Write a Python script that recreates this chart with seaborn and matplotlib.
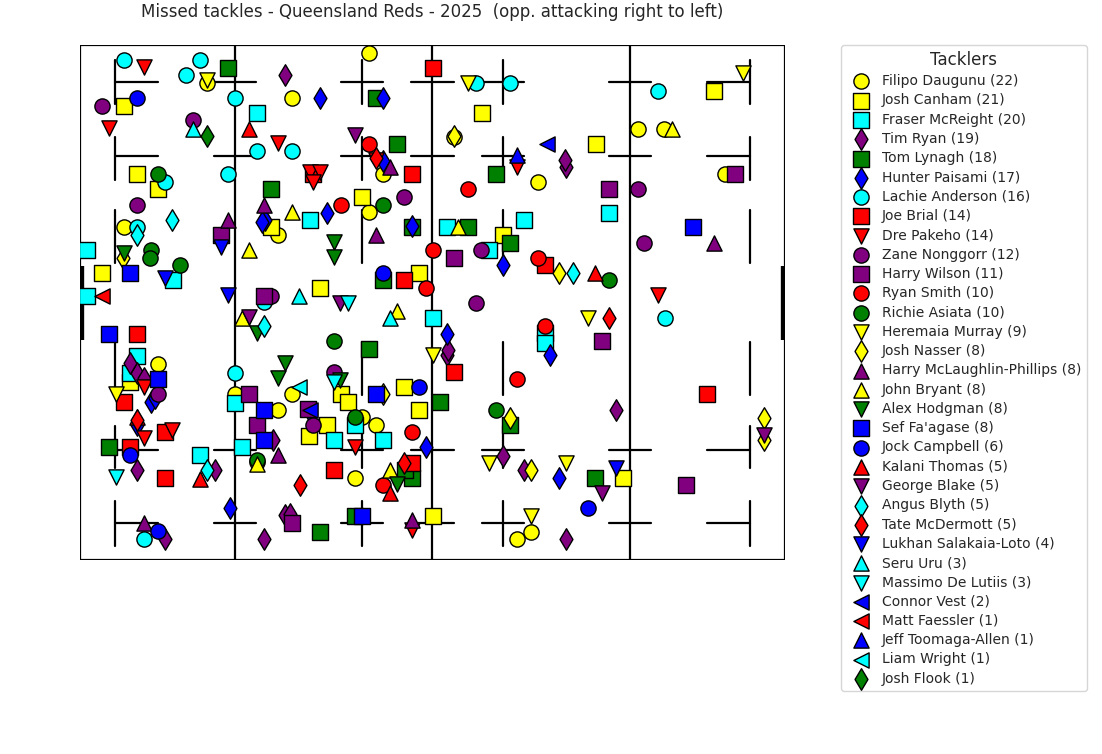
import matplotlib
matplotlib.use("Agg")
import matplotlib.pyplot as plt
import pandas as pd
import seaborn as sns

# Positions (image pixels), converted to metres below.
X0, PX_PER_M_X = 80.0, 7.05
Y0, PX_PER_M_Y = 45.0, 7.36

PURPLE = "#800080"
GREEN = "#008000"

players = [
    ("Filipo Daugunu", "o", "yellow", [(369,53),(207,83),(292,98),(638,129),(664,129),(725,174),(538,182),(383,174),(369,212),(124,227),(278,235),(158,364),(235,394),(292,394),(278,410),(362,417),(376,425),(355,478),(517,539),(531,532),(454,137),(257,462)]),
    ("Josh Canham", "s", "yellow", [(124,106),(137,174),(158,189),(102,273),(271,227),(320,288),(362,197),(482,113),(596,144),(714,91),(503,235),(419,273),(341,394),(348,402),(327,425),(404,387),(419,410),(433,516),(623,478),(130,382),(309,436)]),
    ("Fraser McReight", "s", "cyan", [(257,113),(87,250),(87,296),(173,280),(310,220),(447,227),(489,250),(524,220),(609,213),(433,318),(545,333),(545,343),(137,356),(130,373),(235,403),(200,455),(242,447),(334,440),(355,425),(383,440)]),
    ("Tim Ryan", "d", PURPLE, [(285,75),(566,167),(137,470),(215,470),(273,440),(264,539),(165,539),(285,515),(137,373),(130,363),(503,456),(524,470),(616,410),(566,539),(447,355),(144,378),(290,514),(565,160),(448,350)]),
    ("Tom Lynagh", "s", GREEN, [(228,68),(376,98),(397,144),(271,189),(412,227),(468,227),(510,243),(383,280),(369,349),(440,402),(510,425),(412,478),(355,516),(320,532),(109,447),(595,478),(496,174),(405,470)]),
    ("Hunter Paisami", "d", "blue", [(320,98),(383,98),(383,161),(327,213),(503,265),(447,334),(550,355),(265,220),(137,425),(151,402),(230,508),(426,447),(559,478),(310,412),(412,226),(155,398),(262,222)]),
    ("Lachie Anderson", "o", "cyan", [(124,60),(200,60),(186,75),(235,98),(257,151),(292,151),(228,174),(165,182),(476,83),(510,83),(658,91),(137,227),(665,318),(235,373),(144,539),(264,302)]),
    ("Joe Brial", "s", "red", [(433,68),(412,174),(404,280),(545,265),(454,372),(137,334),(124,402),(130,447),(165,478),(165,432),(334,470),(412,463),(707,394),(313,174)]),
    ("Dre Pakeho", "v", "red", [(144,67),(109,128),(278,143),(310,172),(320,172),(517,167),(658,295),(355,447),(412,530),(144,387),(144,438),(172,430),(376,160),(313,182)]),
    ("Zane Nonggorr", "o", PURPLE, [(102,106),(193,120),(137,205),(404,197),(638,189),(644,243),(476,303),(334,372),(271,296),(158,394),(313,425),(481,250)]),
    ("Harry Wilson", "s", PURPLE, [(221,235),(264,296),(454,258),(609,189),(735,174),(602,341),(686,485),(249,394),(257,425),(308,409),(292,523)]),
    ("Ryan Smith", "o", "red", [(369,144),(341,205),(468,189),(433,250),(426,288),(538,258),(545,326),(517,379),(412,432),(383,485)]),
    ("Richie Asiata", "o", GREEN, [(158,174),(151,250),(180,265),(383,205),(334,341),(496,410),(355,417),(257,460),(609,280),(150,258)]),
    ("Heremaia Murray", "v", "yellow", [(743,73),(468,83),(433,355),(588,318),(116,394),(489,463),(566,463),(531,516),(207,80)]),
    ("Josh Nasser", "d", "yellow", [(454,136),(123,258),(559,273),(383,394),(510,418),(531,470),(764,418),(764,440)]),
    ("Harry McLaughlin-Phillips", "^", PURPLE, [(228,220),(376,235),(714,243),(278,455),(144,523),(412,520),(390,167),(264,205)]),
    ("John Bryant", "^", "yellow", [(672,129),(292,212),(249,250),(242,318),(397,311),(390,470),(257,464),(458,227)]),
    ("Alex Hodgman", "v", GREEN, [(124,253),(334,242),(334,257),(257,333),(285,363),(278,378),(397,484),(340,380)]),
    ("Sef Fa'agase", "s", "blue", [(693,227),(130,273),(109,334),(158,379),(264,410),(264,440),(376,394),(362,516)]),
    ("Jock Campbell", "o", "blue", [(137,98),(383,273),(419,387),(130,455),(158,531),(588,508)]),
    ("Kalani Thomas", "^", "red", [(249,129),(595,273),(200,479),(390,493),(137,417)]),
    ("George Blake", "v", PURPLE, [(355,135),(340,303),(249,317),(602,493),(764,435)]),
    ("Angus Blyth", "d", "cyan", [(172,220),(137,235),(264,326),(573,273),(207,470)]),
    ("Tate McDermott", "d", "red", [(376,158),(609,318),(300,485),(404,463),(137,420)]),
    ("Lukhan Salakaia-Loto", "v", "blue", [(221,247),(228,295),(165,278),(616,468)]),
    ("Seru Uru", "^", "cyan", [(193,129),(299,296),(390,318)]),
    ("Massimo De Lutiis", "v", "cyan", [(348,303),(116,477),(334,382)]),
    ("Connor Vest", "<", "blue", [(547,144),(310,410)]),
    ("Matt Faessler", "<", "red", [(102,296)]),
    ("Jeff Toomaga-Allen", "^", "blue", [(517,155)]),
    ("Liam Wright", "<", "cyan", [(299,387)]),
    ("Josh Flook", "d", GREEN, [(207,136)]),
]

rows = []
for name, marker, color, pts in players:
    for px, py in pts:
        rows.append({"player": name, "x": (px - X0) / PX_PER_M_X, "y": (py - Y0) / PX_PER_M_Y})
df = pd.DataFrame(rows)


def draw_pitch(ax):
    kw = dict(color="black", lw=1.6, zorder=1)
    ax.plot([0, 100, 100, 0, 0], [0, 0, 70, 70, 0], **kw)
    for x in (22, 50, 78):
        ax.plot([x, x], [0, 70], **kw)
    for x in (5, 40, 60, 95):
        for y0, y1 in ((2, 8), (12.5, 18.3), (22.4, 29.6), (40.4, 47.5), (51.7, 57.5), (62, 68)):
            ax.plot([x, x], [y0, y1], **kw)
    for y in (5, 15, 55, 65):
        for x in (22, 40, 50, 60, 78):
            ax.plot([x - 3, x + 3], [y, y], **kw)
        ax.plot([5, 11], [y, y], **kw)
        ax.plot([89, 95], [y, y], **kw)
    for x in (0, 100):
        ax.plot([x, x], [30, 40], color="black", lw=6, solid_capstyle="butt", zorder=1)


sns.set_style("white")
fig = plt.figure(figsize=(11.02, 7.54), dpi=100)
ax = fig.add_axes([0.0726, 0.257, 0.6397, 0.683])
draw_pitch(ax)

for name, marker, color, pts in players:
    sub = df[df["player"] == name]
    sns.scatterplot(data=sub, x="x", y="y", marker=marker, color=color, s=120,
                    edgecolor="black", linewidth=1, ax=ax, zorder=3,
                    label=f"{name} ({len(sub)})")

ax.set_xlim(0, 100)
ax.set_ylim(70, 0)
ax.axis("off")
ax.set_title("Missed tackles - Queensland Reds - 2025  (opp. attacking right to left)",
             fontsize=12, pad=20)
ax.legend(title="Tacklers", loc="upper left", bbox_to_anchor=(1.08, 1.0),
          fontsize=10, title_fontsize=12, borderaxespad=0, labelspacing=0.38,
          handletextpad=0.5, markerscale=1.0)

fig.savefig("out.png", dpi=100)
